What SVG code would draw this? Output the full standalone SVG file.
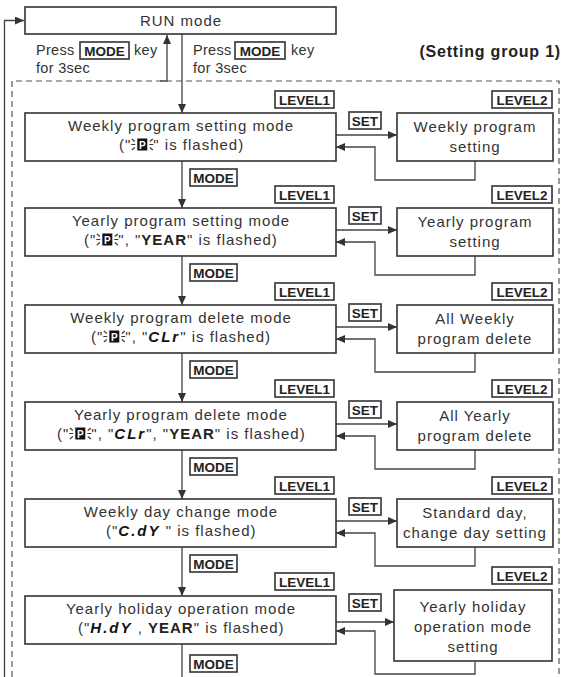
<svg xmlns="http://www.w3.org/2000/svg" width="564" height="677" viewBox="0 0 564 677">
<style>
.box{fill:#fff;stroke:#333;stroke-width:1.6}
.ln{fill:none;stroke:#444;stroke-width:1.3}
.dash{fill:none;stroke:#555;stroke-width:1.2;stroke-dasharray:6 4}
.t{font-family:"Liberation Sans",Arial,sans-serif;font-size:15px;letter-spacing:1px;fill:#333}
.tc{text-anchor:middle}
.lbl{font-family:"Liberation Sans",Arial,sans-serif;font-size:14.5px;letter-spacing:0.3px;fill:#333}
.bdg{fill:#fff;stroke:#333;stroke-width:1.6}
.bt{font-family:"Liberation Sans",Arial,sans-serif;font-size:13.5px;font-weight:bold;fill:#222;text-anchor:middle}
.b{font-weight:bold;fill:#222}
.seg{font-weight:bold;font-style:italic;letter-spacing:2px;fill:#111}
.ray{stroke:#333;stroke-width:1.1;fill:none}
.pg{fill:#111}
.pt{font-family:"Liberation Sans",Arial,sans-serif;font-size:10px;font-weight:bold;fill:#fff;text-anchor:middle}
.grp{font-family:"Liberation Sans",Arial,sans-serif;font-size:16px;font-weight:bold;letter-spacing:0.8px;fill:#222;text-anchor:end}
</style>
<defs>
<marker id="ah" markerWidth="9" markerHeight="8" refX="9" refY="4" orient="auto" markerUnits="userSpaceOnUse">
<path d="M0,0 L9,4 L0,8 z" fill="#333"/>
</marker>
<g id="pglyph">
<path class="ray" d="M0.5,0 L3.5,2.5 M0,5.5 L4,5.5 M0.5,11 L3.5,8.5 M21.5,0 L18.5,2.5 M22,5.5 L18,5.5 M21.5,11 L18.5,8.5"/>
<rect class="pg" x="6" y="-0.5" width="10" height="12"/>
<text class="pt" x="11" y="9.5">P</text>
</g>
</defs>

<g id="connectors">
<path class="ln" d="M4.5,677 V20.5 H24" marker-end="url(#ah)"/>
<path class="ln" d="M160,81 H167 V35" marker-end="url(#ah)"/>
<path class="ln" d="M182,34 V113" marker-end="url(#ah)"/>
<path class="ln" d="M182,161 V208" marker-end="url(#ah)"/>
<path class="ln" d="M182,256 V305" marker-end="url(#ah)"/>
<path class="ln" d="M182,353 V402" marker-end="url(#ah)"/>
<path class="ln" d="M182,450 V499" marker-end="url(#ah)"/>
<path class="ln" d="M182,547 V596" marker-end="url(#ah)"/>
<path class="ln" d="M182,644 V677"/>
<path class="ln" d="M336,135 H397" marker-end="url(#ah)"/>
<path class="ln" d="M475,161 V180 H375 V147 H336" marker-end="url(#ah)"/>
<path class="ln" d="M336,230 H397" marker-end="url(#ah)"/>
<path class="ln" d="M475,256 V275 H375 V242 H336" marker-end="url(#ah)"/>
<path class="ln" d="M336,327 H397" marker-end="url(#ah)"/>
<path class="ln" d="M475,353 V372 H375 V339 H336" marker-end="url(#ah)"/>
<path class="ln" d="M336,424 H397" marker-end="url(#ah)"/>
<path class="ln" d="M475,450 V469 H375 V436 H336" marker-end="url(#ah)"/>
<path class="ln" d="M336,521 H397" marker-end="url(#ah)"/>
<path class="ln" d="M475,547 V566 H375 V533 H336" marker-end="url(#ah)"/>
<path class="ln" d="M336,622 H394" marker-end="url(#ah)"/>
<path class="ln" d="M475,662 V674 H375 V631 H336" marker-end="url(#ah)"/>
</g>

<path id="group1" class="dash" d="M12,677 V81 H559 V677"/>
<text id="group1-label" class="grp" x="561" y="57">(Setting group 1)</text>

<g id="run">
<rect class="box" x="25" y="7" width="311" height="27"/>
<text class="t tc" x="181" y="26">RUN mode</text>
</g>

<g id="lbl-exit">
<text class="lbl" x="36" y="55">Press</text>
<rect class="bdg" x="80" y="42" width="49" height="17"/>
<text class="bt" x="104.5" y="55.5">MODE</text>
<text class="lbl" x="134" y="55">key</text>
<text class="lbl" x="36" y="73">for 3sec</text>
</g>
<g id="lbl-enter">
<text class="lbl" x="193" y="55">Press</text>
<rect class="bdg" x="235" y="42" width="50" height="17"/>
<text class="bt" x="260" y="55.5">MODE</text>
<text class="lbl" x="291" y="55">key</text>
<text class="lbl" x="193" y="73">for 3sec</text>
</g>

<!-- Row 1 -->
<g id="r1-badges">
<rect class="bdg" x="275" y="91" width="59" height="17"/><text class="bt" x="304.5" y="104.5">LEVEL1</text>
<rect class="bdg" x="492" y="91" width="60" height="17"/><text class="bt" x="522" y="104.5">LEVEL2</text>
<rect class="bdg" x="349" y="112" width="32" height="17"/><text class="bt" x="365" y="125.5">SET</text>
<rect class="bdg" x="190" y="169" width="47" height="17"/><text class="bt" x="213.5" y="182.5">MODE</text>
</g>
<g id="weekly-setting-mode">
<rect class="box" x="25" y="113" width="311" height="48"/>
<text class="t tc" x="181" y="131">Weekly program setting mode</text>
<text class="t" x="119" y="150">("<tspan dx="22">" is flashed)</tspan></text>
<use href="#pglyph" x="131.3" y="139"/>
</g>
<g id="weekly-setting">
<rect class="box" x="397" y="113" width="156" height="48"/>
<text class="t tc" x="475" y="132">Weekly program</text>
<text class="t tc" x="475" y="152">setting</text>
</g>

<!-- Row 2 -->
<g id="r2-badges">
<rect class="bdg" x="275" y="186" width="59" height="17"/><text class="bt" x="304.5" y="199.5">LEVEL1</text>
<rect class="bdg" x="492" y="186" width="60" height="17"/><text class="bt" x="522" y="199.5">LEVEL2</text>
<rect class="bdg" x="349" y="207" width="32" height="17"/><text class="bt" x="365" y="220.5">SET</text>
<rect class="bdg" x="190" y="264" width="47" height="17"/><text class="bt" x="213.5" y="277.5">MODE</text>
</g>
<g id="yearly-setting-mode">
<rect class="box" x="25" y="208" width="311" height="48"/>
<text class="t tc" x="181" y="226">Yearly program setting mode</text>
<text class="t" x="84" y="245">("<tspan dx="22">", "</tspan><tspan class="b">YEAR</tspan>" is flashed)</text>
<use href="#pglyph" x="96.3" y="234"/>
</g>
<g id="yearly-setting">
<rect class="box" x="397" y="208" width="156" height="48"/>
<text class="t tc" x="475" y="227">Yearly program</text>
<text class="t tc" x="475" y="247">setting</text>
</g>

<!-- Row 3 -->
<g id="r3-badges">
<rect class="bdg" x="275" y="283" width="59" height="17"/><text class="bt" x="304.5" y="296.5">LEVEL1</text>
<rect class="bdg" x="492" y="283" width="60" height="17"/><text class="bt" x="522" y="296.5">LEVEL2</text>
<rect class="bdg" x="349" y="304" width="32" height="17"/><text class="bt" x="365" y="317.5">SET</text>
<rect class="bdg" x="190" y="361" width="47" height="17"/><text class="bt" x="213.5" y="374.5">MODE</text>
</g>
<g id="weekly-delete-mode">
<rect class="box" x="25" y="305" width="311" height="48"/>
<text class="t tc" x="181" y="323">Weekly program delete mode</text>
<text class="t" x="91" y="342">("<tspan dx="22">", "</tspan><tspan class="seg">CLr</tspan>" is flashed)</text>
<use href="#pglyph" x="103.3" y="331"/>
</g>
<g id="weekly-delete">
<rect class="box" x="397" y="305" width="156" height="48"/>
<text class="t tc" x="475" y="324">All Weekly</text>
<text class="t tc" x="475" y="344">program delete</text>
</g>

<!-- Row 4 -->
<g id="r4-badges">
<rect class="bdg" x="275" y="380" width="59" height="17"/><text class="bt" x="304.5" y="393.5">LEVEL1</text>
<rect class="bdg" x="492" y="380" width="60" height="17"/><text class="bt" x="522" y="393.5">LEVEL2</text>
<rect class="bdg" x="349" y="401" width="32" height="17"/><text class="bt" x="365" y="414.5">SET</text>
<rect class="bdg" x="190" y="458" width="47" height="17"/><text class="bt" x="213.5" y="471.5">MODE</text>
</g>
<g id="yearly-delete-mode">
<rect class="box" x="25" y="402" width="311" height="48"/>
<text class="t tc" x="181" y="420">Yearly program delete mode</text>
<text class="t" x="57" y="439">("<tspan dx="22">", "</tspan><tspan class="seg">CLr</tspan>", "<tspan class="b">YEAR</tspan>" is flashed)</text>
<use href="#pglyph" x="69.3" y="428"/>
</g>
<g id="yearly-delete">
<rect class="box" x="397" y="402" width="156" height="48"/>
<text class="t tc" x="475" y="421">All Yearly</text>
<text class="t tc" x="475" y="441">program delete</text>
</g>

<!-- Row 5 -->
<g id="r5-badges">
<rect class="bdg" x="275" y="477" width="59" height="17"/><text class="bt" x="304.5" y="490.5">LEVEL1</text>
<rect class="bdg" x="492" y="477" width="60" height="17"/><text class="bt" x="522" y="490.5">LEVEL2</text>
<rect class="bdg" x="349" y="498" width="32" height="17"/><text class="bt" x="365" y="511.5">SET</text>
<rect class="bdg" x="190" y="555" width="47" height="17"/><text class="bt" x="213.5" y="568.5">MODE</text>
</g>
<g id="day-change-mode">
<rect class="box" x="25" y="499" width="311" height="48"/>
<text class="t tc" x="181" y="517">Weekly day change mode</text>
<text class="t" x="106" y="536">("<tspan class="seg">C.dY</tspan> " is flashed)</text>
</g>
<g id="day-change-setting">
<rect class="box" x="397" y="499" width="156" height="48"/>
<text class="t tc" x="475" y="518">Standard day,</text>
<text class="t tc" x="475" y="538">change day setting</text>
</g>

<!-- Row 6 -->
<g id="r6-badges">
<rect class="bdg" x="275" y="573" width="59" height="17"/><text class="bt" x="304.5" y="586.5">LEVEL1</text>
<rect class="bdg" x="492" y="567" width="60" height="17"/><text class="bt" x="522" y="580.5">LEVEL2</text>
<rect class="bdg" x="349" y="594" width="32" height="17"/><text class="bt" x="365" y="607.5">SET</text>
<rect class="bdg" x="190" y="655" width="47" height="17"/><text class="bt" x="213.5" y="668.5">MODE</text>
</g>
<g id="holiday-mode">
<rect class="box" x="25" y="596" width="311" height="48"/>
<text class="t tc" x="181" y="614">Yearly holiday operation mode</text>
<text class="t" x="78" y="633">("<tspan class="seg">H.dY</tspan> , <tspan class="b">YEAR</tspan>" is flashed)</text>
</g>
<g id="holiday-setting">
<rect class="box" x="394" y="590" width="158" height="71"/>
<text class="t tc" x="473" y="612">Yearly holiday</text>
<text class="t tc" x="473" y="632">operation mode</text>
<text class="t tc" x="473" y="652">setting</text>
</g>
</svg>
